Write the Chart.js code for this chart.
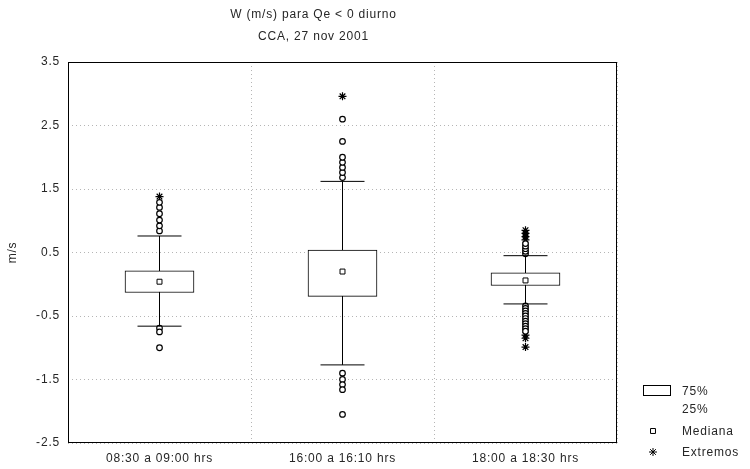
<!DOCTYPE html>
<html>
<head>
<meta charset="utf-8">
<script src="https://cdn.jsdelivr.net/npm/chart.js@4.4.1/dist/chart.umd.min.js"></script>
<style>
  html, body { margin: 0; padding: 0; background: #fff; }
</style>
</head>
<body>
<canvas id="chart" width="750" height="469"></canvas>
<script>
// W (m/s) para Qe < 0, tres periodos del día
const categories = ["08:30 a 09:00 hrs", "16:00 a 16:10 hrs", "18:00 a 18:30 hrs"];
const yTicks = [-2.5, -1.5, -0.5, 0.5, 1.5, 2.5, 3.5];

const q1 = [-0.13, -0.19, -0.02];
const q3 = [0.21, 0.54, 0.18];
const medians = [0.04, 0.20, 0.06];
const whiskerLow = [-0.66, -1.27, -0.31];
const whiskerHigh = [0.76, 1.62, 0.45];

// puntos fuera de los bigotes (círculos) y extremos (asteriscos)
const outliers = [
    [0.84, 0.92, 1.01, 1.11, 1.21, 1.29, -0.69, -0.75, -1.0],
    [1.68, 1.76, 1.84, 1.92, 2.0, 2.25, 2.6, -1.40, -1.50, -1.58, -1.66, -2.05],
    [0.48, 0.52, 0.56, 0.60, 0.64, -0.34, -0.38, -0.42, -0.46, -0.50, -0.54, -0.58, -0.62, -0.66, -0.70, -0.74]
];
const extremes = [
    [1.38],
    [2.96],
    [0.70, 0.75, 0.80, 0.85, -0.80, -0.85, -0.99]
];

const FONT = "'Liberation Sans', Arial, sans-serif";
const TEXT = "#262626";
const SPACING = "0.8px";

const toPoints = groups => groups.flatMap((vals, i) => vals.map(v => ({ x: categories[i], y: v })));

// one vertical segment per category, split with null gaps
const whiskerPoints = categories.flatMap((c, i) => [
    { x: c, y: whiskerLow[i] },
    { x: c, y: whiskerHigh[i] },
    { x: c, y: null }
]);
const capPoints = categories.flatMap((c, i) => [
    { x: c, y: whiskerLow[i] },
    { x: c, y: whiskerHigh[i] }
]);

const framePlugin = {
    id: "frame",
    beforeDraw(chart) {
        chart.ctx.letterSpacing = SPACING;
    },
    afterDraw(chart) {
        const { ctx, chartArea: a } = chart;
        ctx.save();
        ctx.strokeStyle = "#000";
        ctx.lineWidth = 1;
        ctx.strokeRect(Math.round(a.left) + 0.5, Math.round(a.top) + 0.5,
            Math.round(a.right - a.left) - 1, Math.round(a.bottom - a.top) - 1);

        // leyenda
        ctx.font = "12px " + FONT;
        ctx.fillStyle = TEXT;
        ctx.textBaseline = "middle";
        ctx.textAlign = "left";
        ctx.strokeRect(643.5, 385.5, 27, 10);
        ctx.fillText("75%", 682, 392);
        ctx.fillText("25%", 682, 410);
        ctx.fillText("Mediana", 682, 432);
        ctx.fillText("Extremos", 682, 453);
        ctx.fillStyle = "#fff";
        Chart.helpers.drawPoint(ctx, { pointStyle: "rect", radius: 3.5, borderWidth: 1 }, 653, 431);
        Chart.helpers.drawPoint(ctx, { pointStyle: "star", radius: 4, borderWidth: 1 }, 653, 452);
        ctx.restore();
    }
};

new Chart(document.getElementById("chart"), {
    type: "bar",
    plugins: [framePlugin],
    data: {
        labels: categories,
        datasets: [
            {
                type: "line",
                label: "Mediana",
                data: medians.map((m, i) => ({ x: categories[i], y: m })),
                showLine: false,
                pointStyle: "rect",
                pointRadius: 3.5,
                pointBorderWidth: 1,
                pointBorderColor: "#000",
                pointBackgroundColor: "#fff"
            },
            {
                label: "25%-75%",
                data: q1.map((v, i) => [v, q3[i]]),
                backgroundColor: "#fff",
                borderColor: "#000",
                borderWidth: 1,
                borderSkipped: false,
                barThickness: 69
            },
            {
                type: "line",
                label: "bigotes",
                data: whiskerPoints,
                spanGaps: false,
                borderColor: "#000",
                borderWidth: 1,
                pointRadius: 0
            },
            {
                type: "line",
                label: "topes",
                data: capPoints,
                showLine: false,
                pointStyle: "line",
                pointRadius: 22,
                pointBorderWidth: 1,
                pointBorderColor: "#000"
            },
            {
                type: "line",
                label: "atípicos",
                data: toPoints(outliers),
                showLine: false,
                pointStyle: "circle",
                pointRadius: 2.8,
                pointBorderWidth: 1.2,
                pointBorderColor: "#000",
                pointBackgroundColor: "#fff"
            },
            {
                type: "line",
                label: "Extremos",
                data: toPoints(extremes),
                showLine: false,
                pointStyle: "star",
                pointRadius: 4,
                pointBorderWidth: 1.2,
                pointBorderColor: "#000"
            }
        ]
    },
    options: {
        responsive: false,
        devicePixelRatio: 1,
        animation: false,
        layout: { padding: { left: 10, right: 133, top: 0, bottom: 0 } },
        plugins: {
            legend: { display: false },
            tooltip: { enabled: false },
            title: {
                display: true,
                text: ["W (m/s) para Qe < 0 diurno", "CCA, 27 nov 2001"],
                color: TEXT,
                font: { family: FONT, size: 12, weight: "normal", lineHeight: 1.8 },
                padding: { top: 4, bottom: 14.8 }
            }
        },
        scales: {
            x: {
                type: "category",
                grid: { color: "#b5b5b5", lineWidth: 1, drawTicks: false, offset: true },
                border: { display: false, dash: [1, 3] },
                ticks: { color: TEXT, font: { family: FONT, size: 12 }, padding: 8, maxRotation: 0 },
                afterFit: scale => { scale.height = 26; }
            },
            y: {
                min: -2.5,
                max: 3.5,
                grid: { color: "#b5b5b5", lineWidth: 1, drawTicks: false },
                border: { display: false, dash: [1, 3] },
                ticks: { color: TEXT, font: { family: FONT, size: 12 }, padding: 8 },
                afterBuildTicks: scale => { scale.ticks = yTicks.map(v => ({ value: v })); },
                afterFit: scale => { scale.width = 58; },
                title: {
                    display: true,
                    text: "m/s",
                    color: TEXT,
                    font: { family: FONT, size: 12 },
                    padding: { top: -5, bottom: 0 }
                }
            }
        }
    }
});
</script>
</body>
</html>
